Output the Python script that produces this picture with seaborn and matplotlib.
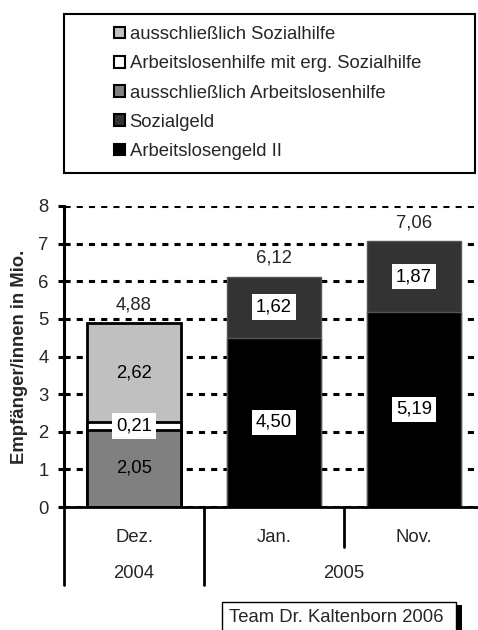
import numpy as np
import pandas as pd
import seaborn as sns
import matplotlib.pyplot as plt
import matplotlib.transforms as mtransforms
from matplotlib.patches import Patch, Rectangle

months = ['Dez.', 'Jan.', 'Nov.']
month_year = ['2004', '2005', '2005']

# stacking order, bottom -> top
series_names = ['Arbeitslosengeld II', 'Sozialgeld', 'ausschließlich Arbeitslosenhilfe',
                'Arbeitslosenhilfe mit erg. Sozialhilfe', 'ausschließlich Sozialhilfe']
alg2 = [0, 4.50, 5.19]
sozialgeld = [0, 1.62, 1.87]
alh_only = [2.05, 0, 0]
alh_plus_sh = [0.21, 0, 0]
sh_only = [2.62, 0, 0]
totals = [4.88, 6.12, 7.06]

colors = ['#000000', '#333333', '#808080', '#ffffff', '#c0c0c0']
boxed = [True, True, False, True, False]

sns.set_theme(style='white')
plt.rcParams['font.family'] = ['Liberation Sans', 'DejaVu Sans']
FS = 13.3

fig = plt.figure(figsize=(4.78, 6.30), dpi=100)
ax = fig.add_axes([64 / 478, 1 - 507 / 630, 414 / 478, 301 / 630])

values = np.array([alg2, sozialgeld, alh_only, alh_plus_sh, sh_only])
tops = values.cumsum(axis=0)

# draw top layer first, lower layers overdraw it
for i in reversed(range(len(series_names))):
    df = pd.DataFrame({'month': months, 'top': tops[i]})
    df = df[values[i] > 0]
    sns.barplot(data=df, x='month', y='top', order=months, color=colors[i],
                width=0.67, saturation=1, errorbar=None, ax=ax)

for p in ax.patches:
    cx = p.get_x() + p.get_width() / 2
    if abs(cx) < 0.3:
        p.set_edgecolor('black')
        p.set_linewidth(2.0)
    else:
        p.set_edgecolor('#555555')
        p.set_linewidth(1.0)

# segment labels
for i in range(len(series_names)):
    for j in range(len(months)):
        v = values[i][j]
        if v <= 0:
            continue
        y = tops[i][j] - v / 2
        bbox = dict(facecolor='white', edgecolor='none', pad=3) if boxed[i] else None
        ax.text(j, y, f'{v:.2f}'.replace('.', ','), ha='center', va='center',
                fontsize=FS, color='black', bbox=bbox, zorder=5)

# totals
for j, t in enumerate(totals):
    ax.annotate(f'{t:.2f}'.replace('.', ','), (j, t), xytext=(0, 10),
                textcoords='offset points', ha='center', va='baseline', fontsize=FS)

ax.set_ylim(0, 8)
ax.set_xlim(-0.5, 2.457)
ax.set_yticks(range(0, 9))
ax.yaxis.grid(True, color='black', linestyle=(0, (2, 2)), linewidth=2.2)
ax.set_axisbelow(True)
for s in ['top', 'right']:
    ax.spines[s].set_visible(False)
ax.spines['left'].set_linewidth(2.2)
ax.spines['left'].set_color('black')
ax.spines['bottom'].set_linewidth(2.0)
ax.spines['bottom'].set_color('black')
ax.tick_params(axis='y', direction='out', length=4, width=2.2, color='black',
               labelsize=FS, pad=7, left=True)
ax.tick_params(axis='x', length=0, labelsize=FS, pad=16)
ax.set_xlabel('')
ax.set_ylabel('Empfänger/innen in Mio.', fontsize=FS, fontweight='bold')
ax.yaxis.set_label_coords(-0.088, 0.5)

# category separators and year labels
trans = mtransforms.blended_transform_factory(ax.transData, ax.transAxes)
for k in range(len(months)):
    if k == 0 or month_year[k] != month_year[k - 1]:
        depth = 78 / 301
    else:
        depth = 40 / 301
    ax.plot([k - 0.5, k - 0.5], [0, -depth], transform=trans, clip_on=False,
            color='black', lw=2)
for yr in dict.fromkeys(month_year):
    idx = [k for k, m in enumerate(month_year) if m == yr]
    ax.text(np.mean(idx), -66 / 301, yr, transform=trans, ha='center', va='center',
            fontsize=FS)

# legend in a box
fig.patches.append(Rectangle((64 / 478, 1 - 173 / 630), 411 / 478, 159 / 630,
                             transform=fig.transFigure, facecolor='white',
                             edgecolor='black', lw=1.5))
handles = [Patch(facecolor=colors[i], edgecolor='black', lw=1.5, label=series_names[i])
           for i in reversed(range(len(series_names)))]
fig.legend(handles=handles, loc='center left', bbox_to_anchor=(114 / 478, 1 - 93 / 630),
           frameon=False, fontsize=FS, borderpad=0, borderaxespad=0,
           handlelength=0.6, handleheight=0.6, handletextpad=0.25, labelspacing=0.66)

# source box
fig.patches.append(Rectangle((456 / 478, 0), 6 / 478, 25 / 630, transform=fig.transFigure,
                             facecolor='black', edgecolor='none'))
fig.patches.append(Rectangle((222 / 478, 1 - 640 / 630), 234 / 478, 38 / 630,
                             transform=fig.transFigure, facecolor='white',
                             edgecolor='black', lw=1))
fig.text(229 / 478, 1 - 618 / 630, 'Team Dr. Kaltenborn 2006', ha='left', va='center',
         fontsize=FS)

fig.savefig('out.png', dpi=100)
